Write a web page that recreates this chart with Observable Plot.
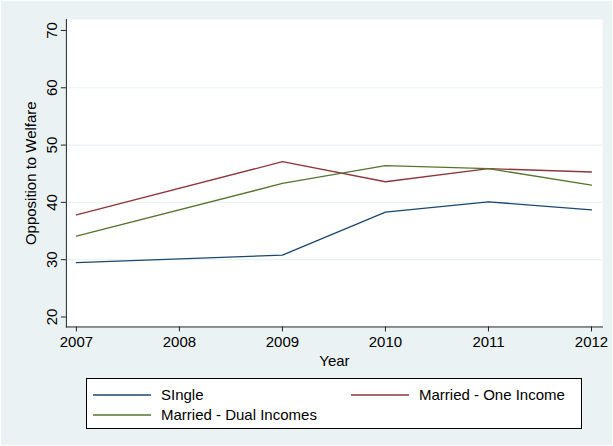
<!DOCTYPE html>
<html>
<head>
<meta charset="utf-8">
<script src="https://cdn.jsdelivr.net/npm/d3@7"></script>
<script src="https://cdn.jsdelivr.net/npm/@observablehq/plot@0.6"></script>
<style>
  html, body { margin: 0; padding: 0; background: #ffffff; }
  #wrap { position: relative; width: 611px; height: 444px; margin: 1px; background: #eaf2f3; overflow: hidden;
          font-family: "Liberation Sans", Arial, Helvetica, sans-serif; }
  #chart { position: absolute; left: -1px; top: -1px; }
  #legend { position: absolute; left: 85px; top: 377px; width: 496px; height: 51px; box-sizing: border-box;
            border: 1px solid #000; background: #fff; }
  #legend svg { position: absolute; left: 0; top: 0; }
</style>
</head>
<body>
<div id="wrap">
  <div id="chart"></div>
  <div id="legend"></div>
</div>
<script>
const years = [2007, 2009, 2010, 2011, 2012];
const single = [29.5, 30.8, 38.3, 40.1, 38.7];
const marriedOne = [37.8, 47.1, 43.6, 45.9, 45.3];
const marriedDual = [34.1, 43.3, 46.4, 45.9, 43.0];
const seriesNames = ["SIngle", "Married - One Income", "Married - Dual Incomes"];
const seriesColors = ["#1a476f", "#90353b", "#55752f"];
const xTicks = [2007, 2008, 2009, 2010, 2011, 2012];
const yTicks = [20, 30, 40, 50, 60, 70];
const gridTicks = [30, 40, 50, 60];
const xTitle = "Year";
const yTitle = "Opposition to Welfare";

const seriesValues = [single, marriedOne, marriedDual];
const data = [];
seriesNames.forEach((name, i) => {
  years.forEach((yr, j) => data.push({series: name, year: yr, value: seriesValues[i][j]}));
});

const chart = Plot.plot({
  width: 613,
  height: 372,
  marginLeft: 66,
  marginRight: 10,
  marginTop: 19,
  marginBottom: 45,
  style: {background: "transparent", fontFamily: "'Liberation Sans', Arial, Helvetica, sans-serif", fontSize: "15px", color: "#000"},
  x: {domain: [2006.903, 2012.107]},
  y: {domain: [18.26, 71.92]},
  color: {domain: seriesNames, range: seriesColors},
  marks: [
    Plot.frame({fill: "white", stroke: null}),
    Plot.ruleY(gridTicks, {stroke: "#eaf2f3", strokeWidth: 1.2}),
    Plot.lineY(data, {x: "year", y: "value", stroke: "series", z: "series", strokeWidth: 1.3}),
    Plot.frame({anchor: "left", stroke: "#222", strokeWidth: 1}),
    Plot.frame({anchor: "bottom", stroke: "#222", strokeWidth: 1}),
    Plot.axisX({ticks: xTicks, tickSize: 5, tickPadding: 4, tickFormat: d => String(d), label: null, fontSize: 15, stroke: "#222"}),
    Plot.axisY({ticks: yTicks, tickSize: 5, tickRotate: -90, tickPadding: 4, tickFormat: d => String(d), label: null, fontSize: 15, stroke: "#222"}),
    Plot.text([yTitle], {frameAnchor: "left", dx: -35, rotate: -90, text: d => d, fontSize: 15, textAnchor: "middle", lineAnchor: "middle"}),
    Plot.text([xTitle], {frameAnchor: "bottom", dy: 34, text: d => d, fontSize: 15, textAnchor: "middle", lineAnchor: "middle"})
  ]
});
document.getElementById("chart").appendChild(chart);

// Legend (below the plot), built from the same series names and colours
const colX = [[6, 74], [264, 332]];
const rowY = [16, 36];
const svg = d3.select("#legend").append("svg")
  .attr("width", 494).attr("height", 49)
  .style("font-family", "'Liberation Sans', Arial, Helvetica, sans-serif")
  .style("font-size", "15px");
seriesNames.forEach((name, i) => {
  const c = colX[i % 2], r = rowY[Math.floor(i / 2)];
  svg.append("line")
    .attr("x1", c[0]).attr("x2", c[0] + 58)
    .attr("y1", r).attr("y2", r)
    .attr("stroke", seriesColors[i])
    .attr("stroke-width", 1.4);
  svg.append("text")
    .attr("x", c[1]).attr("y", r)
    .attr("dy", "0.35em")
    .attr("fill", "#000")
    .text(name);
});
</script>
</body>
</html>
